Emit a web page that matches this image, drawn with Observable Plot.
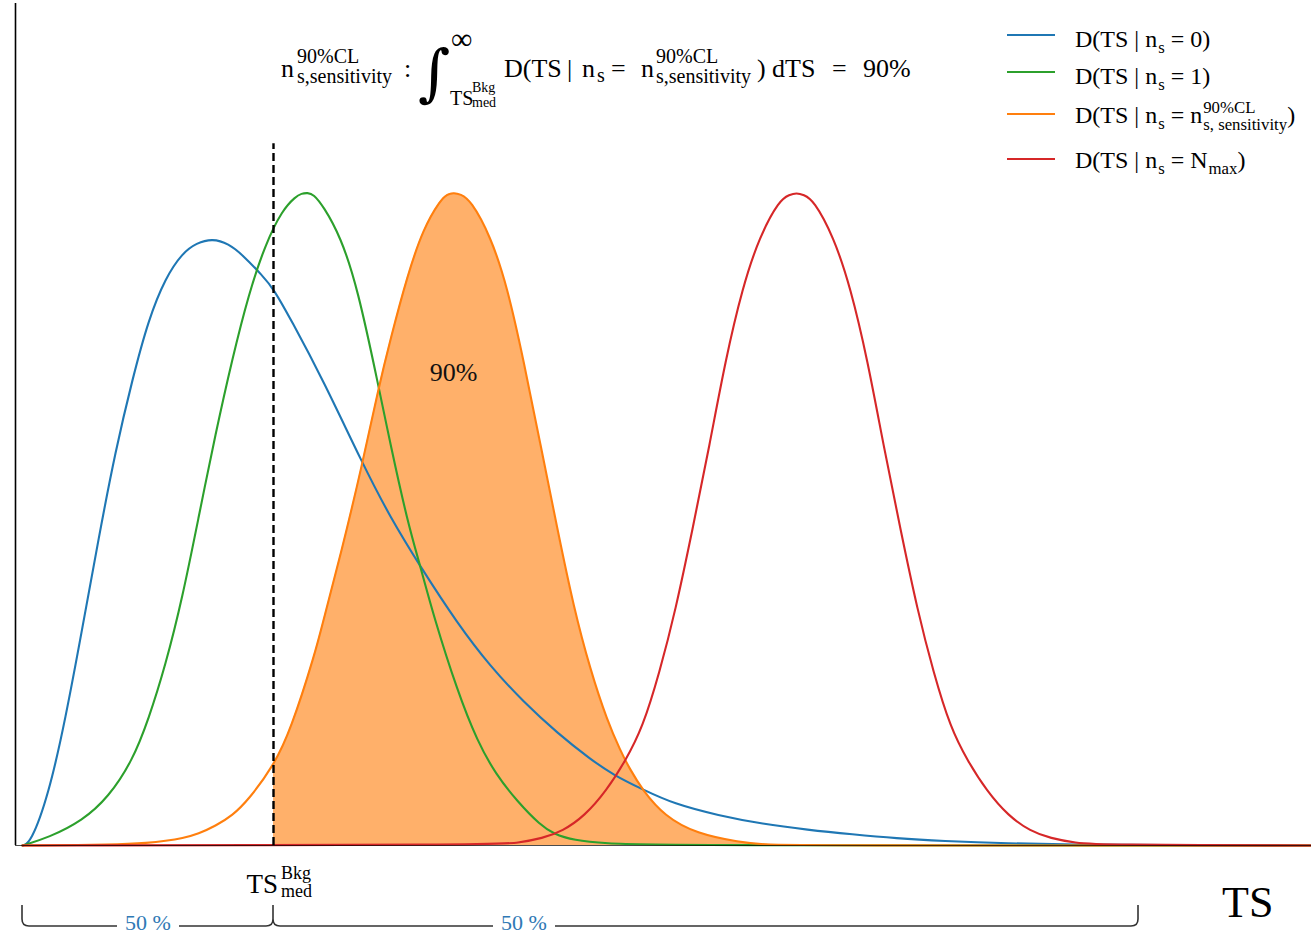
<!DOCTYPE html>
<html>
<head>
<meta charset="utf-8">
<script src="https://cdn.jsdelivr.net/npm/d3@7"></script>
<script src="https://cdn.jsdelivr.net/npm/@observablehq/plot@0.6"></script>
<style>
  html, body { margin: 0; padding: 0; background: #fff; }
  #chart { width: 1311px; height: 935px; overflow: hidden; }
</style>
</head>
<body>
<div id="chart"></div>
<script>
// ---------------- data ----------------
const TS_MED = 2.58;          // median background TS (dashed line)
const TS_MED_TOP = 1.075;     // top of the dashed line
const BRACE_START = 0.07;
const BRACE_END = 11.23;
const HALF_LABELS_TS = [1.33, 5.09];
const HALF_LABELS = ["50 %", "50 %"];

const BLUE_TS = [0.07, 0.15, 0.33, 0.50, 0.67, 0.83, 1.00, 1.17, 1.33, 1.50, 1.67, 1.81, 1.97, 2.13, 2.27, 2.47, 2.58, 2.75, 3.08, 3.47, 3.75, 4.05, 4.42, 4.75, 5.08, 5.42, 5.75, 5.98, 6.27, 6.58, 7.03, 7.47, 7.92, 8.37, 8.81, 9.26, 9.93, 10.60, 11.35, 12.96];
const BLUE_D  = [0, 0.003, 0.077, 0.194, 0.334, 0.470, 0.605, 0.715, 0.806, 0.870, 0.908, 0.923, 0.930, 0.922, 0.905, 0.873, 0.853, 0.807, 0.712, 0.585, 0.502, 0.427, 0.340, 0.274, 0.220, 0.172, 0.132, 0.108, 0.086, 0.064, 0.046, 0.033, 0.024, 0.017, 0.011, 0.007, 0.003, 0.0015, 0.0005, 0];

const GREEN_TS = [0.07, 0.33, 0.67, 0.93, 1.17, 1.33, 1.50, 1.67, 1.83, 2.00, 2.17, 2.33, 2.50, 2.67, 2.80, 2.86, 2.92, 2.98, 3.08, 3.25, 3.42, 3.63, 3.75, 3.92, 4.05, 4.18, 4.42, 4.62, 4.80, 5.02, 5.25, 5.38, 5.58, 5.91, 6.35, 12.96];
const GREEN_D  = [0, 0.012, 0.038, 0.074, 0.130, 0.193, 0.276, 0.380, 0.502, 0.631, 0.747, 0.844, 0.922, 0.974, 0.994, 0.999, 1.000, 0.998, 0.979, 0.933, 0.855, 0.704, 0.614, 0.496, 0.427, 0.352, 0.236, 0.159, 0.110, 0.067, 0.031, 0.018, 0.008, 0.003, 0, 0];

const ORANGE_TS = [0.07, 1.00, 1.33, 1.50, 1.67, 1.83, 2.00, 2.17, 2.33, 2.58, 2.75, 3.00, 3.08, 3.25, 3.47, 3.63, 3.75, 3.92, 4.08, 4.25, 4.32, 4.38, 4.45, 4.55, 4.75, 4.92, 5.08, 5.25, 5.42, 5.58, 5.75, 5.92, 6.05, 6.14, 6.27, 6.49, 6.81, 7.25, 7.47, 7.85, 12.96];
const ORANGE_D  = [0, 0.001, 0.004, 0.007, 0.011, 0.018, 0.030, 0.046, 0.070, 0.122, 0.176, 0.296, 0.346, 0.444, 0.585, 0.701, 0.776, 0.874, 0.946, 0.989, 0.998, 1.000, 0.998, 0.989, 0.934, 0.855, 0.744, 0.614, 0.484, 0.366, 0.268, 0.190, 0.145, 0.118, 0.085, 0.045, 0.018, 0.005, 0.0015, 0, 0];

const RED_TS = [0.07, 4.80, 5.02, 5.27, 5.47, 5.69, 5.91, 6.10, 6.27, 6.44, 6.60, 6.77, 6.94, 7.10, 7.27, 7.44, 7.64, 7.74, 7.81, 7.88, 7.98, 8.18, 8.35, 8.52, 8.68, 8.85, 9.02, 9.18, 9.35, 9.52, 9.71, 9.93, 10.15, 10.35, 10.60, 10.85, 12.96];
const RED_D  = [0, 0.001, 0.004, 0.011, 0.022, 0.045, 0.084, 0.130, 0.180, 0.265, 0.360, 0.484, 0.613, 0.744, 0.855, 0.933, 0.989, 0.997, 1.000, 0.997, 0.989, 0.933, 0.855, 0.744, 0.613, 0.484, 0.360, 0.265, 0.180, 0.130, 0.084, 0.045, 0.022, 0.011, 0.004, 0.001, 0];

const SERIES_COLORS = ["#1f77b4", "#2ca02c", "#ff7f0e", "#d62728"];
const LEGEND_LABELS = [
  ["D(TS | n", {sub: "s"}, " = 0)"],
  ["D(TS | n", {sub: "s"}, " = 1)"],
  ["D(TS | n", {sub: "s"}, " = n", {stack: ["90%CL", "s, sensitivity"]}, ")"],
  ["D(TS | n", {sub: "s"}, " = N", {sub: "max"}, ")"]
];
const PEAK_LABEL = {ts: 4.38, d: 0.724, text: "90%"};

// ---------------- layout ----------------
const W = 1311, H = 935;
const SERIF = "'Liberation Serif', 'DejaVu Serif', serif";

const rows = (xs, ys) => xs.map((x, i) => ({ts: x, d: ys[i]}));
const blue = rows(BLUE_TS, BLUE_D);
const green = rows(GREEN_TS, GREEN_D);
const orange = rows(ORANGE_TS, ORANGE_D);
const red = rows(RED_TS, RED_D);
const orangeFill = orange.filter(d => d.ts >= TS_MED);

const CURVE = "basis";
const lineOpts = (color) => ({x: "ts", y: "d", stroke: color, strokeWidth: 2.1, curve: CURVE});

const chart = Plot.plot({
  width: W,
  height: H,
  marginLeft: 15,
  marginRight: 0,
  marginTop: 3,
  marginBottom: 90,
  style: {background: "#fff", fontFamily: SERIF, overflow: "visible"},
  x: {domain: [0, 12.96], axis: null},
  y: {domain: [0, 1.29], axis: null},
  marks: [
    Plot.areaY(orangeFill, {x: "ts", y: "d", fill: "#ff7f0e", fillOpacity: 0.62, curve: CURVE}),
    Plot.line(blue, lineOpts(SERIES_COLORS[0])),
    Plot.line(green, lineOpts(SERIES_COLORS[1])),
    Plot.line(orange, lineOpts(SERIES_COLORS[2])),
    Plot.line(red, lineOpts(SERIES_COLORS[3])),
    Plot.ruleX([0], {y1: 0, y2: 1.29, stroke: "#000", strokeWidth: 1.6}),
    Plot.ruleY([0], {stroke: "#000", strokeWidth: 1, strokeOpacity: 0.7}),
    Plot.ruleX([TS_MED], {y1: 0, y2: TS_MED_TOP, stroke: "#000", strokeWidth: 2.4, strokeDasharray: "8,4"}),
    Plot.text([PEAK_LABEL], {x: "ts", y: "d", text: "text", fontSize: 26, fill: "#111"})
  ]
});
document.getElementById("chart").append(chart);

const svg = d3.select(chart);
const X = (v) => chart.scale("x").apply(v);
const g = svg.append("g").attr("font-family", SERIF);

function put(str, x, y, size, fill = "#000", anchor = "start", family = SERIF) {
  const t = g.append("text").attr("x", x).attr("y", y).attr("font-size", size)
    .attr("fill", fill).attr("text-anchor", anchor).attr("font-family", family).text(str);
  return x + t.node().getComputedTextLength();
}

function rich(x, y, size, segs) {
  const small = size * 0.7;
  for (const s of segs) {
    if (typeof s === "string") x = put(s, x, y, size);
    else if (s.stack) {
      const a = put(s.stack[0], x + 1, y - size * 0.42, small);
      const b = put(s.stack[1], x + 1, y + size * 0.3, small);
      x = Math.max(a, b);
    } else if (s.sub) x = put(s.sub, x + 1, y + size * 0.26, small);
  }
  return x;
}

// ---- formula at the top ----
const F = 26, S = 20, BASE = 77;
[
  {t: "n", x: 281, y: BASE, s: F},
  {t: "90%CL", x: 297, y: 63, s: S},
  {t: "s,sensitivity", x: 297, y: 83, s: S},
  {t: ":", x: 404, y: BASE, s: F},
  {t: "∞", x: 451, y: 49, s: 30},
  {t: "TS", x: 450, y: 105, s: 20},
  {t: "Bkg", x: 472, y: 92, s: 14},
  {t: "med", x: 472, y: 107, s: 14},
  {t: "D(TS", x: 504, y: BASE, s: F},
  {t: "|", x: 567, y: BASE, s: F},
  {t: "n", x: 582, y: BASE, s: F},
  {t: "s", x: 597, y: BASE + 5, s: S},
  {t: "=", x: 611, y: BASE, s: F},
  {t: "n", x: 641, y: BASE, s: F},
  {t: "90%CL", x: 656, y: 63, s: S},
  {t: "s,sensitivity", x: 656, y: 83, s: S},
  {t: ")", x: 757, y: BASE, s: F},
  {t: "dTS", x: 772, y: BASE, s: F},
  {t: "=", x: 832, y: BASE, s: F},
  {t: "90%", x: 863, y: BASE, s: F}
].forEach(p => put(p.t, p.x, p.y, p.s));
put("∫", 418, 94, 62, "#000", "start", "'DejaVu Serif', serif");

// ---- legend ----
const LEG_Y = [35, 72, 114, 159];
LEGEND_LABELS.forEach((lab, i) => {
  g.append("line").attr("x1", 1007).attr("x2", 1055).attr("y1", LEG_Y[i]).attr("y2", LEG_Y[i])
    .attr("stroke", SERIES_COLORS[i]).attr("stroke-width", 2.2);
  rich(1075, LEG_Y[i] + (i < 2 ? 12 : 9), 24, lab);
});

// ---- TS_med label under the axis ----
const xm = X(TS_MED);
put("TS", xm + 5, 893, 27, "#000", "end");
put("Bkg", xm + 8, 879, 18);
put("med", xm + 8, 897, 18);

// ---- braces ----
const yTop = 905, yBot = 926, r = 7;
const xa = X(BRACE_START), xb = X(BRACE_END);
const l1 = X(HALF_LABELS_TS[0]), l2 = X(HALF_LABELS_TS[1]);
const gap = 31;
const path = [
  `M${xa},${yTop} L${xa},${yBot - r} Q${xa},${yBot} ${xa + r},${yBot} L${l1 - gap},${yBot}`,
  `M${l1 + gap},${yBot} L${xm - r},${yBot} Q${xm},${yBot} ${xm},${yBot - r} L${xm},${yTop}`,
  `M${xm},${yBot - r} Q${xm},${yBot} ${xm + r},${yBot} L${l2 - gap},${yBot}`,
  `M${l2 + gap},${yBot} L${xb - r},${yBot} Q${xb},${yBot} ${xb},${yBot - r} L${xb},${yTop}`
].join(" ");
g.append("path").attr("d", path).attr("fill", "none").attr("stroke", "#333").attr("stroke-width", 1.6);
HALF_LABELS.forEach((t, i) => {
  put(t, X(HALF_LABELS_TS[i]), 930, 22, "#2f79b5", "middle");
});

// ---- axis label ----
put("TS", 1222, 917, 44);
</script>
</body>
</html>
